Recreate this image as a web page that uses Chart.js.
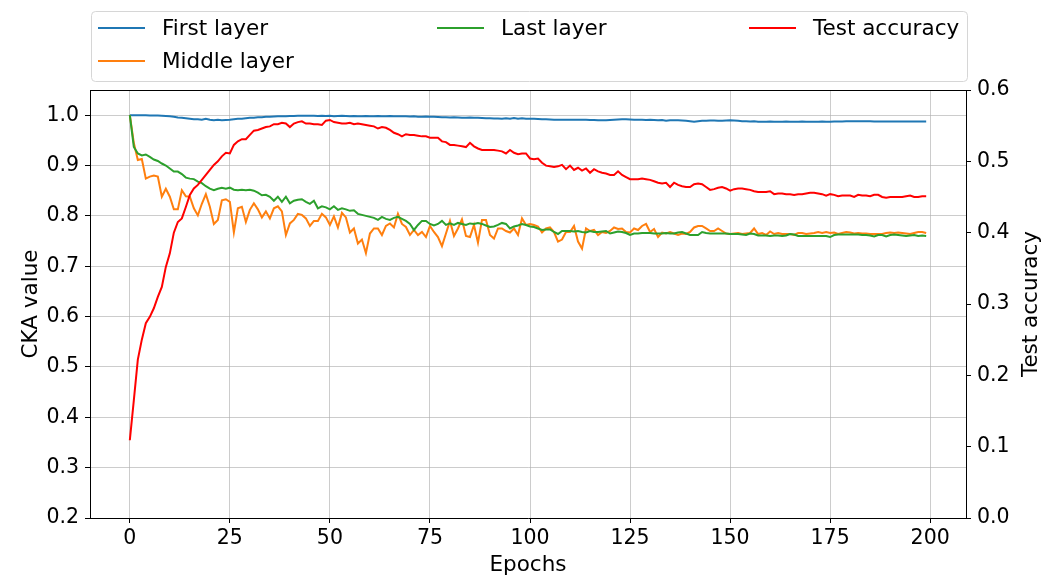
<!DOCTYPE html>
<html>
<head>
<meta charset="utf-8">
<script src="https://cdn.jsdelivr.net/npm/chart.js@4.4.1/dist/chart.umd.min.js"></script>
<style>
  html, body { margin: 0; padding: 0; background: #fff; }
  #cka { display: block; }
</style>
</head>
<body>
<canvas id="cka" width="1056" height="581"></canvas>
<script>
// values, one per epoch (0..199)
const firstLayer = [
  1.000,1.000,1.000,1.000,0.9998,0.9996,0.9994,0.9992,0.999,
  0.9985,0.998,0.997,0.9955,
  0.995,0.994,0.993,0.992,0.992,0.991,0.993,0.991,0.990,0.991,0.990,0.9905,
  0.991,0.992,0.993,0.993,0.994,0.995,0.995,0.996,0.996,0.997,0.997,0.9975,0.998,0.998,0.998,0.9985,0.9985,0.9987,0.999,0.9988,0.999,0.999,
  0.9985,0.999,0.9985,0.999,0.998,0.9985,0.999,0.9985,0.998,0.9985,0.998,0.998,0.9985,0.998,0.998,0.9985,0.998,0.998,0.9985,0.998,0.998,0.998,0.998,0.9975,
  0.998,0.997,0.997,0.9975,0.997,0.997,0.9965,0.996,0.996,0.9955,0.996,0.9955,0.995,0.995,0.9955,0.995,0.995,0.9945,0.994,0.994,0.9935,0.9935,0.993,
  0.994,0.993,0.9945,0.993,0.994,0.993,
  0.993,0.993,0.9925,0.992,0.992,0.9915,0.991,0.991,0.991,0.991,0.991,0.991,0.991,0.991,0.991,0.9905,0.9905,0.990,0.990,0.990,
  0.9905,0.991,0.9915,0.992,0.992,0.9915,0.991,0.991,0.991,0.9905,0.991,0.9905,0.990,0.9905,0.989,0.990,0.990,0.990,0.9895,0.989,0.988,0.987,0.988,0.989,0.989,0.9895,0.9895,
  0.989,0.989,0.9895,0.990,0.9895,0.989,0.988,0.988,0.9875,0.988,0.987,0.987,0.987,0.9875,0.987,0.987,0.987,0.9875,0.987,0.987,0.987,0.9875,0.987,0.987,0.987,0.987,
  0.9875,0.987,0.987,0.9875,0.9875,0.9875,0.988,0.988,0.988,0.988,0.988,0.988,0.988,0.9875,0.9875,0.9875,0.9875,0.9875,0.9875,0.9875,0.9875,0.9875,0.9875,0.9875,0.9875,0.9875,0.9875
];

const middleLayer = [
  1.000,0.945,0.911,0.913,0.874,0.878,0.880,0.878,0.838,0.854,
  0.838,0.813,0.813,0.851,0.839,0.838,0.815,0.801,0.824,0.843,
  0.818,0.784,0.792,0.831,0.833,0.828,0.767,0.815,0.818,0.788,
  0.812,0.825,0.813,0.797,0.809,0.795,0.815,0.819,0.809,0.762,
  0.785,0.792,0.804,0.802,0.795,0.780,0.790,0.790,0.804,0.797,
  0.782,0.799,0.777,0.806,0.797,0.767,0.775,0.745,0.753,0.726,
  0.765,0.775,0.775,0.762,0.780,0.785,0.777,0.804,0.784,0.778,
  0.762,0.772,0.762,0.768,0.758,0.780,0.768,0.758,0.740,0.765,
  0.790,0.760,0.775,0.793,0.760,0.758,0.782,0.747,0.792,0.792,
  0.762,0.755,0.775,0.775,0.770,0.767,0.775,0.762,0.795,0.782,
  0.784,0.782,0.779,0.767,0.775,0.777,0.768,0.749,0.753,0.768,
  0.768,0.780,0.749,0.735,0.775,0.770,0.772,0.762,0.768,0.766,
  0.770,0.777,0.774,0.775,0.768,0.767,0.775,0.772,0.780,0.784,
  0.768,0.774,0.758,0.767,0.765,0.768,0.765,0.762,0.765,0.764,
  0.768,0.777,0.780,0.780,0.775,0.770,0.770,0.775,0.770,0.765,
  0.764,0.765,0.766,0.764,0.765,0.766,0.775,0.764,0.766,0.762,
  0.769,0.764,0.766,0.764,0.764,0.764,0.762,0.766,0.766,0.764,
  0.765,0.766,0.768,0.766,0.768,0.766,0.767,0.764,0.766,0.768,
  0.767,0.765,0.766,0.765,0.765,0.764,0.764,0.764,0.764,0.766,
  0.767,0.766,0.767,0.766,0.765,0.764,0.766,0.768,0.768,0.766
];

const lastLayer = [
  1.000,0.937,0.924,0.920,0.922,0.917,0.912,0.909,0.904,0.900,
  0.894,0.888,0.888,0.883,0.876,0.874,0.873,0.868,0.865,0.859,
  0.854,0.851,0.854,0.856,0.854,0.856,0.852,0.851,0.852,0.851,
  0.852,0.850,0.846,0.841,0.842,0.838,0.830,0.838,0.828,0.838,
  0.825,0.830,0.832,0.833,0.828,0.824,0.830,0.815,0.819,0.817,
  0.813,0.819,0.812,0.815,0.813,0.810,0.811,0.804,0.802,0.800,
  0.798,0.796,0.792,0.798,0.794,0.792,0.796,0.798,0.794,0.790,
  0.784,0.772,0.782,0.790,0.790,0.784,0.781,0.784,0.790,0.782,
  0.785,0.782,0.786,0.784,0.782,0.785,0.784,0.786,0.784,0.781,
  0.778,0.779,0.782,0.786,0.784,0.775,0.779,0.781,0.784,0.782,
  0.779,0.778,0.775,0.772,0.773,0.773,0.768,0.764,0.770,0.770,
  0.770,0.769,0.770,0.768,0.767,0.770,0.768,0.768,0.769,0.770,
  0.765,0.767,0.769,0.768,0.766,0.762,0.765,0.765,0.766,0.766,
  0.766,0.765,0.765,0.765,0.766,0.765,0.765,0.767,0.768,0.765,
  0.762,0.762,0.762,0.768,0.766,0.765,0.765,0.765,0.765,0.765,
  0.764,0.764,0.764,0.763,0.762,0.765,0.764,0.761,0.761,0.761,
  0.760,0.761,0.761,0.760,0.761,0.764,0.763,0.760,0.760,0.760,
  0.760,0.760,0.760,0.760,0.760,0.758,0.762,0.763,0.763,0.763,
  0.763,0.763,0.763,0.762,0.762,0.761,0.759,0.762,0.762,0.759,
  0.762,0.763,0.762,0.761,0.760,0.761,0.762,0.760,0.761,0.760
];

const testAccuracy = [
  0.109,0.165,0.222,0.250,0.273,0.282,0.294,0.310,0.324,0.352,
  0.371,0.400,0.415,0.420,0.436,0.453,0.462,0.467,0.474,0.481,
  0.488,0.495,0.500,0.507,0.512,0.511,0.523,0.528,0.531,0.531,
  0.537,0.543,0.544,0.546,0.548,0.549,0.552,0.552,0.554,0.553,
  0.548,0.553,0.555,0.556,0.553,0.553,0.552,0.552,0.551,0.557,
  0.558,0.555,0.554,0.553,0.553,0.554,0.552,0.553,0.552,0.551,
  0.550,0.549,0.546,0.548,0.547,0.544,0.540,0.538,0.535,0.538,
  0.537,0.537,0.536,0.535,0.535,0.533,0.533,0.533,0.528,0.527,
  0.523,0.523,0.522,0.521,0.520,0.526,0.521,0.518,0.516,0.516,
  0.516,0.516,0.515,0.514,0.511,0.516,0.512,0.510,0.511,0.511,
  0.504,0.503,0.504,0.498,0.494,0.493,0.492,0.493,0.495,0.489,
  0.494,0.488,0.491,0.487,0.490,0.484,0.489,0.486,0.484,0.483,
  0.481,0.481,0.486,0.481,0.478,0.475,0.475,0.475,0.476,0.475,
  0.474,0.472,0.470,0.469,0.470,0.464,0.470,0.467,0.465,0.464,
  0.464,0.468,0.469,0.468,0.464,0.460,0.461,0.463,0.464,0.462,
  0.459,0.461,0.462,0.462,0.461,0.460,0.458,0.457,0.457,0.457,
  0.458,0.454,0.455,0.455,0.454,0.454,0.453,0.454,0.454,0.455,
  0.456,0.456,0.455,0.454,0.452,0.454,0.453,0.451,0.452,0.452,
  0.452,0.450,0.453,0.452,0.452,0.451,0.453,0.453,0.450,0.449,
  0.450,0.450,0.450,0.450,0.451,0.452,0.450,0.450,0.451,0.451
];

// epoch numbers for the x axis
const epochs = [];
for (let i = 0; i < testAccuracy.length; i++) epochs.push(i);

// tick labels
const epochTicks = [0, 25, 50, 75, 100, 125, 150, 175, 200];
const ckaTicks = [0.2, 0.3, 0.4, 0.5, 0.6, 0.7, 0.8, 0.9, 1.0];
const accTicks = [0.0, 0.1, 0.2, 0.3, 0.4, 0.5, 0.6];

const FONT = 'DejaVu Sans';
const LABEL_SIZE = 21.5;

function pts(vals) {
  return epochs.map((e, i) => ({ x: e, y: vals[i] }));
}

// matplotlib-ish legend box (3 columns, column-major), axis titles and top spine
const decorPlugin = {
  id: 'decor',
  afterDraw(chart) {
    const ctx = chart.ctx;
    const area = chart.chartArea;
    ctx.save();

    // top spine
    ctx.strokeStyle = '#000';
    ctx.lineWidth = 1;
    ctx.beginPath();
    ctx.moveTo(area.left, area.top + 0.5);
    ctx.lineTo(area.right, area.top + 0.5);
    ctx.stroke();

    // axis titles
    ctx.fillStyle = '#000';
    ctx.font = LABEL_SIZE + 'px "' + FONT + '"';
    ctx.textAlign = 'center';
    ctx.textBaseline = 'middle';
    ctx.fillText('Epochs', (area.left + area.right) / 2, 565);
    const midY = (area.top + area.bottom) / 2;
    ctx.save();
    ctx.translate(31, midY);
    ctx.rotate(-Math.PI / 2);
    ctx.fillText('CKA value', 0, 0);
    ctx.restore();
    ctx.save();
    ctx.translate(1031, midY);
    ctx.rotate(-Math.PI / 2);
    ctx.fillText('Test accuracy', 0, 0);
    ctx.restore();

    // legend frame
    const bx = 91.5, by = 11.5, bw = 876, bh = 70, r = 4;
    ctx.beginPath();
    ctx.moveTo(bx + r, by);
    ctx.lineTo(bx + bw - r, by);
    ctx.quadraticCurveTo(bx + bw, by, bx + bw, by + r);
    ctx.lineTo(bx + bw, by + bh - r);
    ctx.quadraticCurveTo(bx + bw, by + bh, bx + bw - r, by + bh);
    ctx.lineTo(bx + r, by + bh);
    ctx.quadraticCurveTo(bx, by + bh, bx, by + bh - r);
    ctx.lineTo(bx, by + r);
    ctx.quadraticCurveTo(bx, by, bx + r, by);
    ctx.closePath();
    ctx.fillStyle = 'rgba(255,255,255,0.8)';
    ctx.fill();
    ctx.strokeStyle = '#d6d6d6';
    ctx.stroke();

    // entries: dataset index -> column / row
    const slots = [[0, 0], [0, 1], [1, 0], [2, 0]];
    const colX = [98, 437, 749];
    const rowY = [28, 61];
    ctx.textAlign = 'left';
    chart.data.datasets.forEach((ds, i) => {
      const x = colX[slots[i][0]];
      const y = rowY[slots[i][1]];
      ctx.strokeStyle = ds.borderColor;
      ctx.lineWidth = 2;
      ctx.beginPath();
      ctx.moveTo(x, y);
      ctx.lineTo(x + 47, y);
      ctx.stroke();
      ctx.fillStyle = '#000';
      ctx.fillText(ds.label, x + 64, y + 1);
    });

    ctx.restore();
  }
};

const tickFont = { family: FONT, size: 20.5 };

new Chart(document.getElementById('cka').getContext('2d'), {
  type: 'line',
  data: {
    datasets: [
      { label: 'First layer', data: pts(firstLayer), borderColor: '#1f77b4', yAxisID: 'y', order: 3 },
      { label: 'Middle layer', data: pts(middleLayer), borderColor: '#ff7f0e', yAxisID: 'y', order: 2 },
      { label: 'Last layer', data: pts(lastLayer), borderColor: '#2ca02c', yAxisID: 'y', order: 1 },
      { label: 'Test accuracy', data: pts(testAccuracy), borderColor: '#ff0000', yAxisID: 'y2', order: 0 }
    ]
  },
  options: {
    responsive: false,
    animation: false,
    devicePixelRatio: 1,
    layout: { padding: { top: 90, left: 0, right: 0, bottom: 0 } },
    elements: {
      line: { borderWidth: 2, tension: 0, fill: false },
      point: { radius: 0 }
    },
    plugins: {
      legend: { display: false },
      tooltip: { enabled: false }
    },
    scales: {
      x: {
        type: 'linear',
        min: -9.95,
        max: 208.95,
        afterBuildTicks: (s) => { s.ticks = epochTicks.map(v => ({ value: v })); },
        afterFit: (s) => { s.height = 63; },
        ticks: { font: tickFont, color: '#000', padding: 3, maxRotation: 0, autoSkip: false },
        grid: { color: 'rgba(176,176,176,0.65)', lineWidth: 1, tickLength: 5, tickColor: '#000' },
        border: { display: true, color: '#000', width: 1 }
      },
      y: {
        type: 'linear',
        position: 'left',
        min: 0.2,
        max: 1.05,
        afterBuildTicks: (s) => { s.ticks = ckaTicks.map(v => ({ value: v })); },
        afterFit: (s) => { s.width = 90; },
        ticks: { font: tickFont, color: '#000', padding: 6, callback: v => v.toFixed(1) },
        grid: { color: 'rgba(176,176,176,0.65)', lineWidth: 1, tickLength: 5, tickColor: '#000' },
        border: { display: true, color: '#000', width: 1 }
      },
      y2: {
        type: 'linear',
        position: 'right',
        min: 0,
        max: 0.6,
        afterBuildTicks: (s) => { s.ticks = accTicks.map(v => ({ value: v })); },
        afterFit: (s) => { s.width = 90; },
        ticks: { font: tickFont, color: '#000', padding: 6, callback: v => v.toFixed(1) },
        grid: { drawOnChartArea: false, tickLength: 5, tickColor: '#000' },
        border: { display: true, color: '#000', width: 1 }
      }
    }
  },
  plugins: [decorPlugin]
});
</script>
</body>
</html>
